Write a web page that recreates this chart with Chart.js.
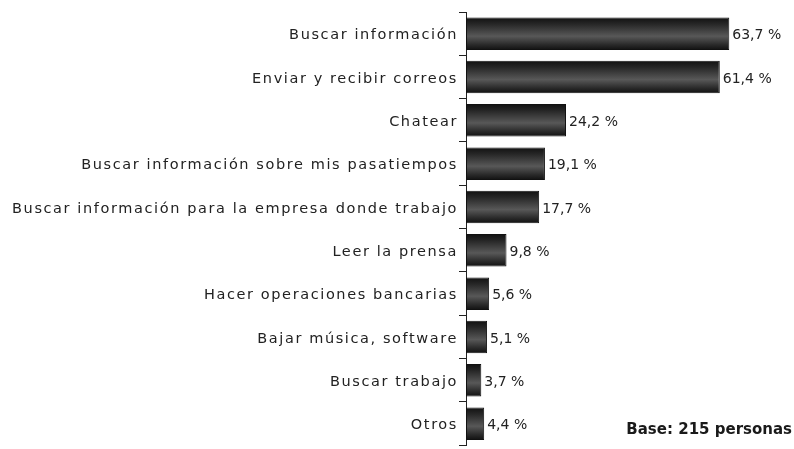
<!DOCTYPE html>
<html>
<head>
<meta charset="utf-8">
<script src="https://cdn.jsdelivr.net/npm/chart.js@4"></script>
<style>
  html, body { margin: 0; padding: 0; background: #fff; }
  #wrap { position: relative; width: 794px; height: 449px; overflow: hidden; }
  #wrap canvas { position: absolute; left: 0; top: 0; }
  #base {
    position: absolute; right: 2px; top: 420px;
    font: bold 15px "DejaVu Sans", sans-serif; color: #1a1a1a;
  }
</style>
</head>
<body>
<div id="wrap">
  <canvas id="chart" width="794" height="455"></canvas>
  <div id="base">Base: 215 personas</div>
</div>
<script>
// Data
const categories = [
    "Buscar información",
    "Enviar y recibir correos",
    "Chatear",
    "Buscar información sobre mis pasatiempos",
    "Buscar información para la empresa donde trabajo",
    "Leer la prensa",
    "Hacer operaciones bancarias",
    "Bajar música, software",
    "Buscar trabajo",
    "Otros"
];
const percentages = [63.7, 61.4, 24.2, 19.1, 17.7, 9.8, 5.6, 5.1, 3.7, 4.4];
const xTicks = [0, 75];

const AXIS_X = 466;

// the original uses a loose bitmap font, fake it with letter spacing
const spacing = {
    id: 'spacing',
    beforeLayout(chart) { chart.ctx.letterSpacing = '1.6px'; },
    beforeDraw(chart) { chart.ctx.letterSpacing = '1.6px'; }
};

// value labels at the end of each bar
const valueLabels = {
    id: 'valueLabels',
    afterDatasetsDraw(chart) {
        const ctx = chart.ctx;
        const meta = chart.getDatasetMeta(0);
        ctx.save();
        ctx.letterSpacing = '0px';
        ctx.font = '14px "DejaVu Sans"';
        ctx.fillStyle = '#222';
        ctx.textAlign = 'left';
        ctx.textBaseline = 'middle';
        meta.data.forEach((bar, i) => {
            const txt = percentages[i].toFixed(1).replace('.', ',') + ' %';
            ctx.fillText(txt, bar.x + 3, bar.y + 2);
        });
        ctx.restore();
    }
};

function barFill(context) {
    const chart = context.chart;
    const y = chart.scales.y;
    if (!y || context.dataIndex === undefined) return '#333';
    const band = (y.bottom - y.top) / categories.length;
    const h = band * 0.75;
    const cy = y.getPixelForValue(context.dataIndex);
    if (!isFinite(cy) || !isFinite(h) || h <= 0) return '#333';
    const g = chart.ctx.createLinearGradient(0, cy - h / 2, 0, cy + h / 2);
    g.addColorStop(0, '#111');
    g.addColorStop(0.2, '#262626');
    g.addColorStop(0.58, '#585858');
    g.addColorStop(0.85, '#282828');
    g.addColorStop(1, '#111');
    return g;
}

new Chart(document.getElementById('chart'), {
    type: 'bar',
    data: {
        labels: categories,
        datasets: [{
            data: percentages,
            backgroundColor: barFill,
            borderColor: '#111',
            borderWidth: 1,
            borderSkipped: false,
            barPercentage: 0.75,
            categoryPercentage: 1
        }]
    },
    options: {
        indexAxis: 'y',
        responsive: false,
        animation: false,
        layout: { padding: { top: 12, right: 18, bottom: 2, left: 0 } },
        plugins: {
            legend: { display: false },
            tooltip: { enabled: false }
        },
        scales: {
            x: {
                display: false,
                min: xTicks[0],
                max: xTicks[1]
            },
            y: {
                offset: true,
                afterFit(scale) { scale.width = AXIS_X; },
                grid: {
                    offset: true,
                    drawOnChartArea: false,
                    drawTicks: true,
                    tickLength: 7,
                    color: '#222'
                },
                border: { display: true, color: '#222', width: 1 },
                ticks: {
                    padding: 1,
                    labelOffset: 2,
                    color: '#222',
                    font: { family: 'DejaVu Sans', size: 14.5 }
                }
            }
        }
    },
    plugins: [spacing, valueLabels]
});
</script>
</body>
</html>
